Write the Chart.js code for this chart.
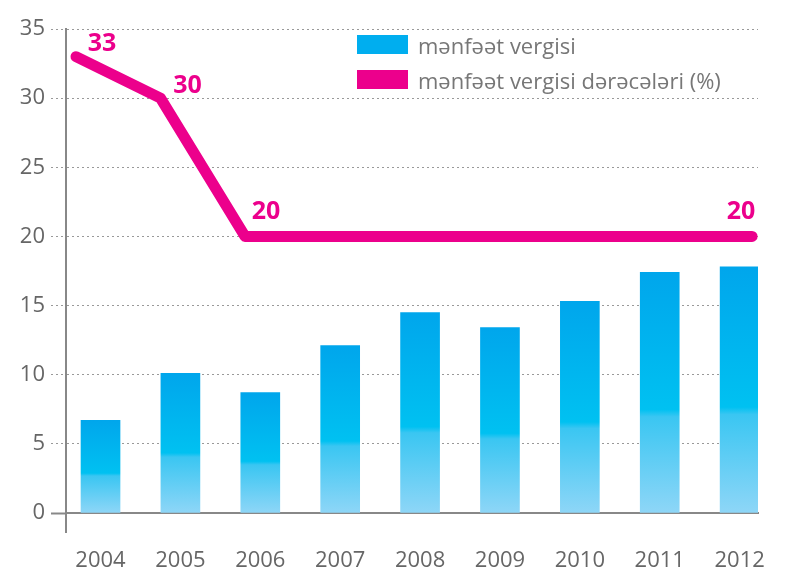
<!DOCTYPE html>
<html>
<head>
    <meta charset="utf-8">
    <title>Mənfəət vergisi</title>
    <script src="https://cdn.jsdelivr.net/npm/chart.js@4.4.0/dist/chart.umd.min.js"></script>
    <style>
        html, body { margin: 0; padding: 0; background: #fff; }
        #wrap { position: relative; width: 796px; height: 571px; }
        .legend { position: absolute; left: 357px; font-family: "Open Sans", sans-serif; font-size: 22px; color: #777; }
        .legend .item { display: flex; align-items: center; height: 35px; }
        .legend .box { width: 51px; height: 19px; margin-right: 10px; }
    </style>
</head>
<body>
<div id="wrap">
    <canvas id="chart" width="796" height="571"></canvas>
    <div class="legend" style="top: 27px;">
        <div class="item"><span class="box" style="background:#00aeef"></span><span id="lg-bar"></span></div>
        <div class="item"><span class="box" style="background:#ec008c"></span><span id="lg-line"></span></div>
    </div>
</div>

<script>
    // ---- data ----
    var years = ["2004", "2005", "2006", "2007", "2008", "2009", "2010", "2011", "2012"];
    var taxValues = [6.7, 10.1, 8.7, 12.1, 14.5, 13.4, 15.3, 17.4, 17.8];
    var rateValues = [33, 30, 20, 20, 20, 20, 20, 20, 20];
    var yTicks = [0, 5, 10, 15, 20, 25, 30, 35];
    var barLabel = "mənfəət vergisi";
    var lineLabel = "mənfəət vergisi dərəcələri (%)";
    var labelledPoints = [0, 1, 2, 8];

    document.getElementById("lg-bar").textContent = barLabel;
    document.getElementById("lg-line").textContent = lineLabel;

    var magenta = "#ec008c";
    var axisGrey = "#888";

    // gradient per bar, from its top down to the baseline
    function barGradient(ctx) {
        var chart = ctx.chart;
        var y = chart.scales.y;
        if (!y || ctx.raw == null) return "#00aeef";
        var top = y.getPixelForValue(ctx.raw.y);
        var base = y.getPixelForValue(0);
        if (!isFinite(top) || !isFinite(base) || top === base) return "#00aeef";
        var g = chart.ctx.createLinearGradient(0, top, 0, base);
        g.addColorStop(0, "#00a6ec");
        g.addColorStop(0.57, "#00c1f1");
        g.addColorStop(0.6, "#3ac6f2");
        g.addColorStop(1, "#8ed6f7");
        return g;
    }

    // value labels next to some of the line points
    var pointLabels = {
        id: "pointLabels",
        afterDatasetsDraw: function(chart) {
            var meta = chart.getDatasetMeta(1);
            var ctx = chart.ctx;
            var offsets = { 0: [26, -13], 1: [27, -12], 2: [21, -25], 8: [-11, -25] };
            ctx.save();
            ctx.font = "bold 25px 'Open Sans', sans-serif";
            ctx.fillStyle = magenta;
            ctx.textAlign = "center";
            ctx.textBaseline = "middle";
            labelledPoints.forEach(function(i) {
                var pt = meta.data[i];
                var o = offsets[i];
                ctx.fillText(String(rateValues[i]), pt.x + o[0], pt.y + o[1]);
            });
            ctx.restore();
        }
    };

    // y axis line runs a little below the baseline
    var axisTail = {
        id: "axisTail",
        afterDraw: function(chart) {
            var a = chart.chartArea;
            var ctx = chart.ctx;
            ctx.save();
            ctx.strokeStyle = axisGrey;
            ctx.lineWidth = 2;
            ctx.beginPath();
            ctx.moveTo(a.left, a.bottom);
            ctx.lineTo(a.left, a.bottom + 20);
            ctx.stroke();
            ctx.restore();
        }
    };

    new Chart(document.getElementById("chart"), {
        type: "bar",
        data: {
            datasets: [{
                type: "bar",
                label: barLabel,
                data: taxValues.map(function(v, i) { return { x: i, y: v }; }),
                backgroundColor: barGradient,
                grouped: false,
                barThickness: 39,
                maxBarThickness: 39,
                xAxisID: "x",
                order: 2
            }, {
                type: "line",
                label: lineLabel,
                data: rateValues.map(function(v, i) { return { x: i, y: v }; }),
                borderColor: magenta,
                borderWidth: 11,
                borderCapStyle: "round",
                borderJoinStyle: "round",
                pointRadius: 0,
                tension: 0,
                fill: false,
                clip: false,
                xAxisID: "x2",
                order: 1
            }]
        },
        options: {
            responsive: false,
            animation: false,
            layout: { padding: { left: 0, right: 38, top: 29, bottom: 0 } },
            plugins: {
                legend: { display: false },
                tooltip: { enabled: false }
            },
            scales: {
                x: {
                    type: "linear",
                    offset: false,
                    min: -0.432,
                    max: 8.23,
                    afterBuildTicks: function(s) {
                        s.ticks = years.map(function(_, i) { return { value: i }; });
                    },
                    afterFit: function(s) { s.height = 58; },
                    grid: { display: false },
                    border: { color: axisGrey, width: 2 },
                    ticks: {
                        padding: 27,
                        color: "#666",
                        font: { family: "'Open Sans', sans-serif", size: 22, weight: "500" },
                        callback: function(v) { return years[v]; }
                    }
                },
                x2: {
                    type: "linear",
                    display: false,
                    offset: false,
                    min: -0.118,
                    max: 8.07
                },
                y: {
                    min: 0,
                    max: 35,
                    afterBuildTicks: function(s) {
                        s.ticks = yTicks.map(function(v) { return { value: v }; });
                    },
                    afterFit: function(s) { s.width = 66; },
                    border: {
                        color: axisGrey,
                        width: 2,
                        dash: [2, 3]
                    },
                    grid: {
                        color: function(c) { return c.tick && c.tick.value === 0 ? "transparent" : "#999"; },
                        lineWidth: 1,
                        tickLength: 15,
                        tickColor: function(c) { return c.tick && c.tick.value === 0 ? axisGrey : "#999"; },
                        tickWidth: function(c) { return c.tick && c.tick.value === 0 ? 2 : 1; },
                        tickBorderDash: function(c) { return c.tick && c.tick.value === 0 ? [] : [2, 3]; }
                    },
                    ticks: {
                        padding: 6,
                        color: "#666",
                        font: { family: "'Open Sans', sans-serif", size: 22, weight: "500" }
                    }
                }
            }
        },
        plugins: [pointLabels, axisTail]
    });
</script>
</body>
</html>
